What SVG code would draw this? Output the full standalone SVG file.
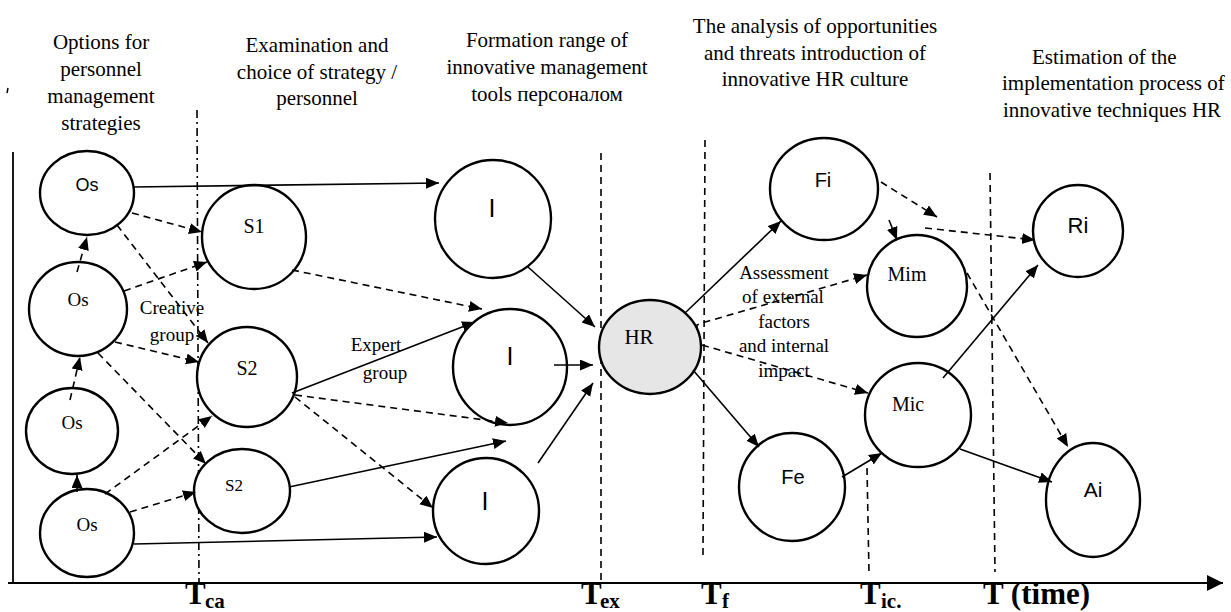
<svg xmlns="http://www.w3.org/2000/svg" width="1231" height="612" viewBox="0 0 1231 612">
<style>
.n{fill:#fff;stroke:#000;stroke-width:2.4}
.hr{fill:#e6e6e6}
.c{stroke:#000;stroke-width:1.6;fill:none}
.d{stroke-dasharray:7 5}
.g{stroke:#000;stroke-width:1.6;stroke-dasharray:7 5;fill:none}
.gd{stroke:#000;stroke-width:1.6;stroke-dasharray:8 4 2 4;fill:none}
.h{font-family:'Liberation Serif','Times New Roman','DejaVu Serif',serif;font-size:21px;fill:#000}
.l{font-family:'Liberation Serif','Times New Roman','DejaVu Serif',serif;font-size:19px;fill:#000;text-anchor:middle}
.s{font-family:'Liberation Sans',Arial,sans-serif;font-size:20px;fill:#000;text-anchor:middle}
.tb{font-family:'Liberation Serif','Times New Roman',serif;font-weight:bold;font-size:31px;fill:#000}
.ts{font-family:'Liberation Serif','Times New Roman',serif;font-weight:bold;font-size:21px;fill:#000}
</style>
<defs>
<marker id="a" markerUnits="userSpaceOnUse" markerWidth="14" markerHeight="12" refX="13" refY="5.5" orient="auto">
<path d="M0,0 L13,5.5 L0,11 z" fill="#000"/>
</marker>
<marker id="ax" markerUnits="userSpaceOnUse" markerWidth="18" markerHeight="18" refX="16" refY="8" orient="auto">
<path d="M0,0 L16,8 L0,16 z" fill="#000"/>
</marker>
</defs>

<g id="headers">
<text class="h" text-anchor="middle" x="101" y="49">Options for</text>
<text class="h" text-anchor="middle" x="101" y="76">personnel</text>
<text class="h" text-anchor="middle" x="101" y="103">management</text>
<text class="h" text-anchor="middle" x="101" y="130">strategies</text>
<text class="h" text-anchor="middle" x="317" y="52">Examination and</text>
<text class="h" text-anchor="middle" x="317" y="79">choice of strategy /</text>
<text class="h" text-anchor="middle" x="317" y="105">personnel</text>
<text class="h" text-anchor="middle" x="547" y="47">Formation range of</text>
<text class="h" text-anchor="middle" x="547" y="74">innovative management</text>
<text class="h" text-anchor="middle" x="547" y="101">tools персоналом</text>
<text class="h" text-anchor="middle" x="815" y="33">The analysis of opportunities</text>
<text class="h" text-anchor="middle" x="815" y="60">and threats introduction of</text>
<text class="h" text-anchor="middle" x="815" y="86">innovative HR culture</text>
<text class="h" x="1032" y="64">Estimation of the</text>
<text class="h" x="1002" y="90">implementation process of</text>
<text class="h" x="1003" y="117">innovative techniques HR</text>
</g>

<g id="axes">
<line x1="13" y1="152" x2="13" y2="583" stroke="#000" stroke-width="1.8"/>
<line x1="8" y1="88" x2="7" y2="93" stroke="#000" stroke-width="1.5"/>
<line x1="8" y1="583" x2="1223" y2="583" stroke="#000" stroke-width="2.2" marker-end="url(#ax)"/>
<line class="gd" x1="197" y1="110" x2="199" y2="582"/>
<line class="g" x1="601" y1="153" x2="601" y2="582"/>
<line class="g" x1="705" y1="140" x2="703" y2="555"/>
<line class="g" x1="867" y1="468" x2="869" y2="573"/>
<line class="g" x1="990" y1="173" x2="995" y2="572"/>
<text class="tb" x="185" y="604">T</text><text class="ts" x="205" y="608">ca</text>
<text class="tb" x="581" y="604">T</text><text class="ts" x="600" y="608">ex</text>
<text class="tb" x="701" y="604">T</text><text class="ts" x="722" y="608">f</text>
<text class="tb" x="860" y="604">T</text><text class="ts" x="881" y="608">ic.</text>
<text class="tb" x="983" y="604">T (time)</text>
</g>

<g id="node-os1"><ellipse class="n" cx="87" cy="193" rx="47" ry="42"/><text class="s" x="87" y="191" style="font-size:18px">Os</text></g>
<g id="node-os2"><ellipse class="n" cx="78" cy="309" rx="49" ry="47"/><text class="l" x="78" y="306">Os</text></g>
<g id="node-os3"><ellipse class="n" cx="72" cy="431" rx="46" ry="43"/><text class="l" x="72" y="429">Os</text></g>
<g id="node-os4"><ellipse class="n" cx="87" cy="533" rx="47" ry="44"/><text class="l" x="87" y="531">Os</text></g>
<g id="node-s1"><ellipse class="n" cx="254" cy="237" rx="52" ry="52"/><text class="l" x="254" y="233" style="font-size:20px">S1</text></g>
<g id="node-s2a"><ellipse class="n" cx="247" cy="377" rx="50" ry="50"/><text class="l" x="247" y="375" style="font-size:20px">S2</text></g>
<g id="node-s2b"><ellipse class="n" cx="242" cy="491" rx="48" ry="42"/><text class="l" x="234" y="491" style="font-size:17px">S2</text></g>
<g id="node-i1"><ellipse class="n" cx="493" cy="219" rx="58" ry="59"/><text class="s" x="492" y="217" style="font-size:25px">I</text></g>
<g id="node-i2"><ellipse class="n" cx="510" cy="367" rx="57" ry="58"/><text class="s" x="510" y="365" style="font-size:25px">I</text></g>
<g id="node-i3"><ellipse class="n" cx="486" cy="511" rx="53" ry="53"/><text class="s" x="485" y="510" style="font-size:25px">I</text></g>
<g id="node-hr"><ellipse class="n hr" cx="650" cy="347" rx="51" ry="47"/><text class="l" x="639" y="344" style="font-size:21px">HR</text></g>
<g id="node-fi"><ellipse class="n" cx="824" cy="189" rx="54" ry="51"/><text class="s" x="823" y="187">Fi</text></g>
<g id="node-fe"><ellipse class="n" cx="792" cy="487" rx="53" ry="54"/><text class="s" x="793" y="484">Fe</text></g>
<g id="node-mim"><ellipse class="n" cx="917" cy="286" rx="50" ry="51"/><text class="l" x="907" y="281" style="font-size:20px">Mim</text></g>
<g id="node-mic"><ellipse class="n" cx="918" cy="415" rx="53" ry="52"/><text class="l" x="908" y="411" style="font-size:20px">Mic</text></g>
<g id="node-ri"><ellipse class="n" cx="1078" cy="231" rx="45" ry="46"/><text class="s" x="1078" y="233" style="font-size:22px">Ri</text></g>
<g id="node-ai"><ellipse class="n" cx="1093" cy="500" rx="47" ry="57"/><text class="s" x="1093" y="497" style="font-size:21px">Ai</text></g>

<g id="connectors">
<line class="c" x1="133" y1="187" x2="439" y2="183" marker-end="url(#a)"/>
<line class="c d" x1="132" y1="213" x2="202" y2="232" marker-end="url(#a)"/>
<line class="c d" x1="117" y1="225" x2="208" y2="343" marker-end="url(#a)"/>
<line class="c d" x1="77" y1="272" x2="87" y2="237" marker-end="url(#a)"/>
<line class="c d" x1="124" y1="291" x2="207" y2="262" marker-end="url(#a)"/>
<line class="c d" x1="115" y1="342" x2="199" y2="362" marker-end="url(#a)"/>
<line class="c d" x1="98" y1="353" x2="206" y2="464" marker-end="url(#a)"/>
<line class="c d" x1="70" y1="400" x2="80" y2="357" marker-end="url(#a)"/>
<line class="c" x1="77" y1="492" x2="77" y2="475" marker-end="url(#a)"/>
<line class="c d" x1="105" y1="494" x2="212" y2="416" marker-end="url(#a)"/>
<line class="c d" x1="130" y1="512" x2="196" y2="492" marker-end="url(#a)"/>
<line class="c" x1="134" y1="544" x2="437" y2="537" marker-end="url(#a)"/>
<line class="c d" x1="292" y1="270" x2="482" y2="309" marker-end="url(#a)"/>
<line class="c" x1="292" y1="393" x2="475" y2="322" marker-end="url(#a)"/>
<line class="c d" x1="295" y1="395" x2="508" y2="423" marker-end="url(#a)"/>
<line class="c d" x1="295" y1="397" x2="433" y2="508" marker-end="url(#a)"/>
<line class="c" x1="289" y1="487" x2="506" y2="441" marker-end="url(#a)"/>
<line class="c" x1="528" y1="267" x2="595" y2="327" marker-end="url(#a)"/>
<line class="c" x1="554" y1="365" x2="593" y2="365" marker-end="url(#a)"/>
<line class="c" x1="538" y1="463" x2="593" y2="383" marker-end="url(#a)"/>
<line class="c" x1="685" y1="313" x2="781" y2="221" marker-end="url(#a)"/>
<path class="c d" d="M697,330 L697,325 L702,323 L867,275" marker-end="url(#a)"/>
<line class="c d" x1="702" y1="345" x2="868" y2="393" marker-end="url(#a)"/>
<line class="c" x1="693" y1="370" x2="759" y2="447" marker-end="url(#a)"/>
<line class="c d" x1="881" y1="182" x2="937" y2="217" marker-end="url(#a)"/>
<line class="c" x1="889" y1="220" x2="897" y2="240" marker-end="url(#a)"/>
<line class="c d" x1="925" y1="228" x2="1035" y2="240" marker-end="url(#a)"/>
<line class="c d" x1="967" y1="273" x2="1068" y2="447" marker-end="url(#a)"/>
<line class="c" x1="943" y1="378" x2="1038" y2="265" marker-end="url(#a)"/>
<line class="c" x1="842" y1="477" x2="882" y2="453" marker-end="url(#a)"/>
<line class="c" x1="960" y1="449" x2="1052" y2="482" marker-end="url(#a)"/>
</g>

<g id="labels">
<text class="l" x="172" y="314">Creative</text>
<text class="l" x="172" y="341">group</text>
<text class="l" x="376" y="351">Expert</text>
<text class="l" x="385" y="379">group</text>
<text class="l" x="784" y="279">Assessment</text>
<text class="l" x="783" y="303">of external</text>
<text class="l" x="784" y="328">factors</text>
<text class="l" x="784" y="352">and internal</text>
<text class="l" x="784" y="377">impact</text>
</g>
</svg>
